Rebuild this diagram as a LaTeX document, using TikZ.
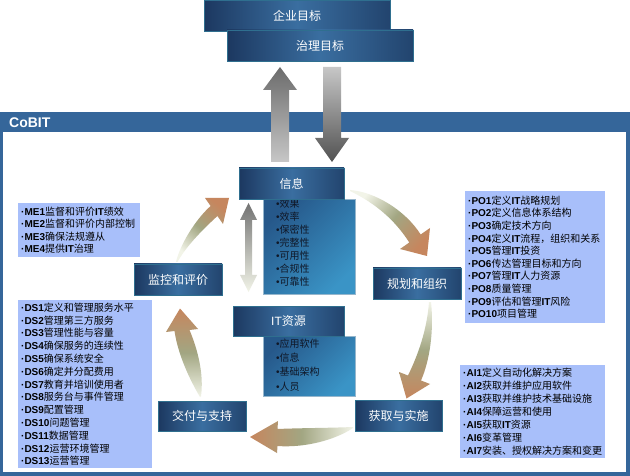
\documentclass[tikz,border=0pt]{standalone}
\usepackage{fontspec}
\setmainfont{Liberation Sans}
\newfontfamily\lat{Liberation Sans}
\newfontfamily\cjk{Noto Sans CJK SC}
\newcommand\LB[1]{{\lat\bfseries #1}}
\newcommand\bul{{\lat •}}
\definecolor{band}{RGB}{53,102,154}
\definecolor{navyL}{RGB}{28,56,96}
\definecolor{navyM}{RGB}{58,110,160}
\definecolor{navyR}{RGB}{34,68,110}
\definecolor{boxedge}{RGB}{47,111,143}
\definecolor{listbg}{RGB}{168,191,250}
\definecolor{infoA}{RGB}{38,88,138}
\definecolor{infoB}{RGB}{58,148,198}
\definecolor{darkedge}{RGB}{150,182,204}
\definecolor{infotext}{RGB}{16,24,40}
\definecolor{arrTail}{RGB}{242,244,232}
\definecolor{arrMid}{RGB}{162,166,130}
\definecolor{arrHead}{RGB}{198,134,94}
\begin{document}
\begin{tikzpicture}[x=1pt,y=-1pt,
  titlebox/.style={draw=boxedge, line width=0.7pt, left color=navyL, right color=navyR, middle color=navyM, text=white, font=\cjk\fontsize{12}{14}\selectfont, inner sep=0pt},
  listbox/.style={fill=listbg, inner xsep=3pt, inner ysep=0pt, align=left, anchor=north west, text=black},
  darkbox/.style={draw=darkedge, line width=0.6pt, top color=infoA, bottom color=infoB, shading angle=45, inner sep=0pt, anchor=north west},
  darktext/.style={anchor=north west, inner sep=0pt, align=left, text=infotext}]
\useasboundingbox (0,0) rectangle (630,476);
% CoBIT frame
\fill[band] (0,112) rectangle (630,476);
\fill[white] (3,132) rectangle (626,472);
\node[anchor=west, text=white, font=\lat\bfseries\fontsize{14}{16}\selectfont, inner sep=0pt] (cobit) at (9,122.5) {CoBIT};
% top goal boxes
\node[titlebox, minimum width=186pt, minimum height=31pt] (corp) at (297,15.5) {企业目标};
\node[titlebox, minimum width=186pt, minimum height=31pt] (gov) at (320,45.5) {治理目标};
% up / down arrows
\shade[top color=black!58, bottom color=black!22] (280,67) -- (297,90) -- (289,90) -- (289,162) -- (271,162) -- (271,90) -- (263,90) -- cycle;
\shade[top color=black!22, bottom color=black!68] (323,67) -- (341,67) -- (341,138) -- (349,138) -- (332,162) -- (315,138) -- (323,138) -- cycle;
% curved cycle arrows
\shade[top color=arrHead, bottom color=arrTail, middle color=arrMid, shading angle=-40]
  (176,262) .. controls (180,245) and (195,220) .. (210.6,206) -- (205,198) -- (229,198) -- (223,224) -- (217.4,216) .. controls (200,232) and (185,248) .. (177.5,262) -- cycle;
\shade[top color=arrHead, bottom color=arrTail, middle color=arrMid, shading angle=-130]
  (350,190) .. controls (375,192) and (405,210) .. (420.7,234.5) -- (430,228) -- (427,256) -- (400,249) -- (409.3,242.5) .. controls (395,220) and (375,203) .. (350,191) -- cycle;
\shade[top color=arrTail, bottom color=arrHead, middle color=arrMid]
  (431,302) .. controls (434,330) and (430,360) .. (421,380.5) -- (430,384) -- (406.5,398.5) -- (399,372) -- (408,375.5) .. controls (418,355) and (427,330) .. (429,302) -- cycle;
\shade[left color=arrHead, right color=arrTail, middle color=arrMid]
  (353,427) .. controls (330,428) and (300,428) .. (277.5,429) -- (278,421) -- (250,437) -- (277,453) -- (277.5,446) .. controls (305,448) and (335,440) .. (353,428) -- cycle;
\shade[top color=arrHead, bottom color=arrTail, middle color=arrMid]
  (200,397) .. controls (190,380) and (178,355) .. (174.5,331) -- (166,332) -- (180,308.5) -- (198,329) -- (189.5,330) .. controls (198,350) and (204,375) .. (201,396) -- cycle;
% vertical double arrow
\shade[top color=black!55, bottom color=arrTail] (248.5,203) -- (257,220) -- (252,220) -- (252,275) -- (257,275) -- (248.5,292) -- (240,275) -- (245,275) -- (245,220) -- (240,220) -- cycle;
% info and IT resource boxes
\node[darkbox, minimum width=92pt, minimum height=95pt] (infol) at (263,199) {};
\node[darktext, font=\cjk\fontsize{10}{12.9}\selectfont] (infot) at (276,199) {\bul 效果\\\bul 效率\\\bul 保密性\\\bul 完整性\\\bul 可用性\\\bul 合规性\\\bul 可靠性};
\node[titlebox, minimum width=105pt, minimum height=31pt] (info) at (291.5,183.5) {信息};
\node[darkbox, minimum width=92pt, minimum height=60pt] (itl) at (263,336) {};
\node[darktext, font=\cjk\fontsize{10}{14.3}\selectfont] (itt) at (276,338.5) {\bul 应用软件\\\bul 信息\\\bul 基础架构\\\bul 人员};
\node[titlebox, minimum width=111pt, minimum height=30pt] (itres) at (288.5,321) {\lat IT\cjk 资源};
% process boxes
\node[titlebox, minimum width=88pt, minimum height=31pt] (plan) at (417,283.5) {规划和组织};
\node[titlebox, minimum width=88pt, minimum height=31pt] (mon) at (178,279.5) {监控和评价};
\node[titlebox, minimum width=88pt, minimum height=30pt] (deliv) at (202,416) {交付与支持};
\node[titlebox, minimum width=87pt, minimum height=31pt] (acq) at (398.5,415.5) {获取与实施};
% lists
\node[listbox, minimum width=122pt, minimum height=54pt, text width=116pt, font=\cjk\fontsize{10}{12.5}\selectfont] (me) at (18,203) {%
\LB{·ME1}监督和评价\LB{IT}绩效\\
\LB{·ME2}监督和评价内部控制\\
\LB{·ME3}确保法规遵从\\
\LB{·ME4}提供\LB{IT}治理};
\node[listbox, minimum width=140pt, minimum height=132pt, text width=134pt, font=\cjk\fontsize{10}{12.6}\selectfont] (po) at (465,191) {%
\LB{·PO1}定义\LB{IT}战略规划\\
\LB{·PO2}定义信息体系结构\\
\LB{·PO3}确定技术方向\\
\LB{·PO4}定义\LB{IT}流程，组织和关系\\
\LB{·PO5}管理\LB{IT}投资\\
\LB{·PO6}传达管理目标和方向\\
\LB{·PO7}管理\LB{IT}人力资源\\
\LB{·PO8}质量管理\\
\LB{·PO9}评估和管理\LB{IT}风险\\
\LB{·PO10}项目管理};
\node[listbox, minimum width=134pt, minimum height=168pt, text width=128pt, font=\cjk\fontsize{10}{12.8}\selectfont] (ds) at (18,300) {%
\LB{·DS1}定义和管理服务水平\\
\LB{·DS2}管理第三方服务\\
\LB{·DS3}管理性能与容量\\
\LB{·DS4}确保服务的连续性\\
\LB{·DS5}确保系统安全\\
\LB{·DS6}确定并分配费用\\
\LB{·DS7}教育并培训使用者\\
\LB{·DS8}服务台与事件管理\\
\LB{·DS9}配置管理\\
\LB{·DS10}问题管理\\
\LB{·DS11}数据管理\\
\LB{·DS12}运营环境管理\\
\LB{·DS13}运营管理};
\node[listbox, minimum width=145pt, minimum height=93pt, text width=139pt, font=\cjk\fontsize{10}{13}\selectfont] (ai) at (460,365) {%
\LB{·AI1}定义自动化解决方案\\
\LB{·AI2}获取并维护应用软件\\
\LB{·AI3}获取并维护技术基础设施\\
\LB{·AI4}保障运营和使用\\
\LB{·AI5}获取\LB{IT}资源\\
\LB{·AI6}变革管理\\
\LB{·AI7}安装、授权解决方案和变更};
\end{tikzpicture}
\end{document}
